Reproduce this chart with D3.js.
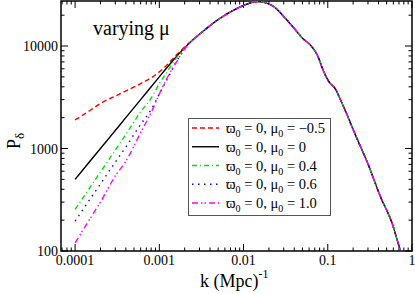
<!DOCTYPE html>
<meta charset="utf-8">
<style>

body {
  margin: 0;
  background: #fff;
}

svg text {
  font-family: "Liberation Serif", "DejaVu Serif", "Times New Roman", serif;
  fill: #000;
}

.tick line {
  stroke: #000;
  stroke-width: 1;
}

</style>
<body>
<script src="https://cdn.jsdelivr.net/npm/d3@7"></script>
<script>

var w = 415,
    h = 294;

// low-k part differs per series
var kLow = [1e-4, 1.5e-4, 2e-4, 3e-4, 4e-4, 6e-4, 8e-4, 1e-3, 1.2e-3, 1.6e-3, 2e-3];
var pRed = [1900, 2350, 2750, 3250, 3650, 4300, 4900, 5600, 6400, 8200, 9800];
var pBlack = [500, 750, 1000, 1500, 2000, 3000, 4000, 5000, 6000, 7900, 9600];
var pGreen = [255, 416, 590, 963, 1370, 2275, 3100, 4300, 5400, 7700, 9550];
var pBlue = [196, 320, 451, 736, 1035, 1720, 2400, 3400, 4500, 7100, 9400];
var pMagenta = [120, 206, 300, 540, 750, 1430, 2250, 3400, 4650, 7000, 9350];

// high-k part is the same for all of them
var kHigh = [0.0025, 0.00309, 0.00488, 0.00767, 0.0111, 0.0146, 0.018, 0.0229, 0.0302, 0.0398,
             0.0501, 0.0624, 0.075, 0.0897, 0.103, 0.124, 0.142, 0.170, 0.213, 0.293,
             0.422, 0.581, 0.725, 0.8];
var pHigh = [11500, 13300, 17900, 22400, 25700, 27200, 26500, 24200, 19300, 14900,
             11900, 10200, 8170, 5610, 4490, 3780, 2970, 2120, 1355, 743,
             339, 186, 102, 80];

var labels = ["\u2212" + "0.5", "0", "0.4", "0.6", "1.0"];
var colors = ["#ff0000", "#000000", "#00e000", "#0000ff", "#ff00ff"];
var dashes = ["5,3", null, "5,3,1,3", "1.5,4.5", "6,3,1.5,2,1.5,3"];
var lows = [pRed, pBlack, pGreen, pBlue, pMagenta];

var xTickLabels = ["0.0001", "0.001", "0.01", "0.1", "1"];
var yTickLabels = ["100", "1000", "10000"];

var mL = 61, mR = 412, mT = 1, mB = 251;

var x = d3.scaleLog().domain([6.8e-5, 1]).range([mL, mR]);
var y = d3.scaleLog().domain([100, 27500]).range([mB, mT]);

var svg = d3.select("body").append("svg")
    .attr("width", w)
    .attr("height", h)
    .attr("font-family", "'Liberation Serif', 'DejaVu Serif', serif");

svg.append("clipPath").attr("id", "clip")
  .append("rect")
    .attr("x", mL).attr("y", mT)
    .attr("width", mR - mL).attr("height", mB - mT);

// tick values
var xMinor = [], yMinor = [];
for (var d = -5; d <= 0; d++) {
  for (var m = 1; m <= 9; m++) {
    var v = m * Math.pow(10, d);
    if (v >= 6.8e-5 && v <= 1.0001) xMinor.push(v);
  }
}
for (var d = 2; d <= 4; d++) {
  for (var m = 1; m <= 9; m++) {
    var v = m * Math.pow(10, d);
    if (v <= 27500) yMinor.push(v);
  }
}
function isMajor(v) {
  var l = Math.log10(v);
  return Math.abs(l - Math.round(l)) < 1e-6;
}

function tickLen(v) { return isMajor(v) ? 7 : 3.5; }

// ticks drawn inward on all four sides
var ticks = svg.append("g").attr("class", "tick");
xMinor.forEach(function(v) {
  var px = x(v), L = tickLen(v);
  ticks.append("line").attr("x1", px).attr("x2", px).attr("y1", mB).attr("y2", mB - L);
  ticks.append("line").attr("x1", px).attr("x2", px).attr("y1", mT).attr("y2", mT + L);
});
yMinor.forEach(function(v) {
  var py = y(v), L = tickLen(v);
  ticks.append("line").attr("x1", mL).attr("x2", mL + L).attr("y1", py).attr("y2", py);
  ticks.append("line").attr("x1", mR).attr("x2", mR - L).attr("y1", py).attr("y2", py);
});

svg.append("rect")
    .attr("x", mL).attr("y", mT)
    .attr("width", mR - mL).attr("height", mB - mT)
    .attr("fill", "none")
    .attr("stroke", "#000")
    .attr("stroke-width", 1.5);

svg.selectAll(".xl")
    .data(xTickLabels)
  .enter().append("text")
    .attr("x", function(d) { return x(+d); })
    .attr("y", 265)
    .attr("text-anchor", "middle")
    .style("font-size", "14px")
    .text(function(d) { return d; });

svg.selectAll(".yl")
    .data(yTickLabels)
  .enter().append("text")
    .attr("x", 58)
    .attr("y", function(d) { return y(+d) + 5; })
    .attr("text-anchor", "end")
    .style("font-size", "14px")
    .text(function(d) { return d; });

// curves
var line = d3.line()
    .x(function(d) { return x(d[0]); })
    .y(function(d) { return y(d[1]); })
    .curve(d3.curveMonotoneX);

var plot = svg.append("g").attr("clip-path", "url(#clip)");

lows.forEach(function(p, i) {
  var pts = kLow.map(function(k, j) { return [k, p[j]]; })
      .concat(kHigh.map(function(k, j) { return [k, pHigh[j]]; }));
  plot.append("path")
      .attr("d", line(pts))
      .attr("fill", "none")
      .attr("stroke", colors[i])
      .attr("stroke-width", 1.4)
      .attr("stroke-dasharray", dashes[i]);
});

// legend
var lg = svg.append("g");
lg.append("rect")
    .attr("x", 188.5).attr("y", 118.5)
    .attr("width", 142).attr("height", 97)
    .attr("fill", "#fff")
    .attr("stroke", "#555")
    .attr("stroke-width", 1);

labels.forEach(function(lab, i) {
  var cy = 128 + i * 18.75;
  lg.append("line")
      .attr("x1", 192).attr("x2", 219)
      .attr("y1", cy).attr("y2", cy)
      .attr("stroke", colors[i])
      .attr("stroke-width", 1.4)
      .attr("stroke-dasharray", dashes[i]);
  var t = lg.append("text")
      .attr("x", 226)
      .attr("y", cy + 5)
      .style("font-size", "14.5px");
  t.append("tspan").text("\u03d6");
  t.append("tspan").attr("dy", 4).style("font-size", "10px").text("0");
  t.append("tspan").attr("dy", -4).text(i == 4 ? " = 0, \u03bc" : " = 0,  \u03bc");
  t.append("tspan").attr("dy", 4).style("font-size", "10px").text("0");
  t.append("tspan").attr("dy", -4).text(" = " + lab);
});

svg.append("text")
    .attr("x", 93)
    .attr("y", 35)
    .style("font-size", "20px")
    .text("varying \u03bc");

var xl = svg.append("text")
    .attr("x", 200)
    .attr("y", 287)
    .style("font-size", "18px");
xl.append("tspan").text("k (Mpc)");
xl.append("tspan").attr("dy", -9).style("font-size", "12px").text("-1");

var yl = svg.append("text")
    .attr("transform", "translate(20,149) rotate(-90)")
    .style("font-size", "18px");
yl.append("tspan").text("P");
yl.append("tspan").attr("dy", 4).style("font-size", "13px").text("\u03b4");

</script>
